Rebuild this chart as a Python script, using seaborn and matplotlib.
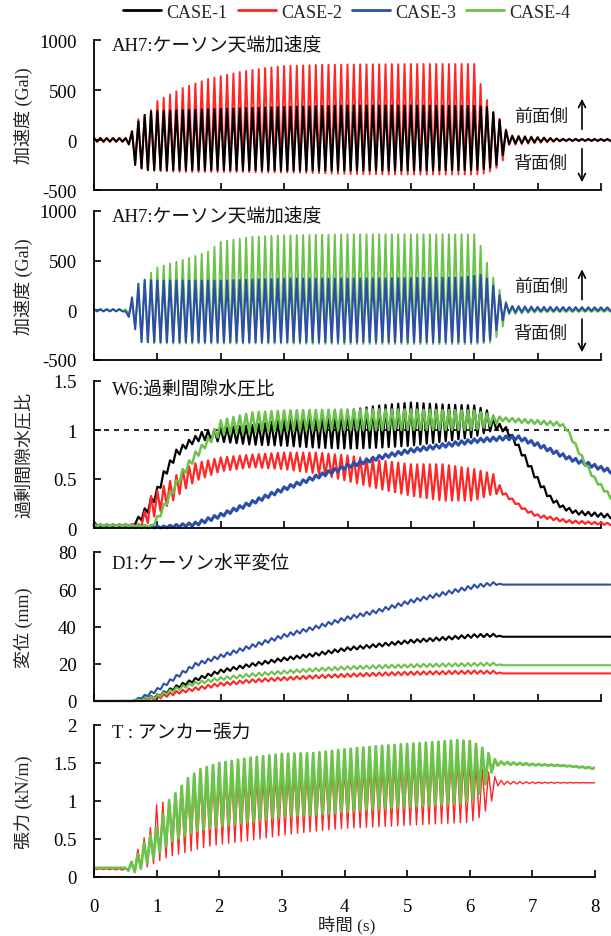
import numpy as np
import pandas as pd
import matplotlib
matplotlib.use("Agg")
import matplotlib.pyplot as plt
from matplotlib.lines import Line2D
import seaborn as sns

# ---------------------------------------------------------------- data
CASES = ["CASE-1", "CASE-2", "CASE-3", "CASE-4"]
COLORS = {"CASE-1": "#000000", "CASE-2": "#ff2626", "CASE-3": "#2c4ea8", "CASE-4": "#6cc24a"}

EXCITATION_HZ = 10.0      # ~10 load cycles per second, counted on the picture
RECORD_END = 8.15         # records in panels 1-4 run slightly past the 8 s tick
TENSION_END = 8.0
REF_RATIO = 1.0           # dashed reference line of panel 3

# Panel 1: AH7 caisson-top acceleration (Gal), peak envelopes (upper / lower)
ACC_C1_T = [0.0, 0.5, 0.58, 0.65, 0.75, 0.85, 1.0, 1.5, 2.0, 3.0, 4.0, 5.0, 6.0, 6.2, 6.35, 6.45, 6.55, 7.0, 7.4, 8.15]
ACC_C1_UP = [18, 18, 60, 150, 220, 280, 290, 300, 310, 330, 345, 345, 340, 330, 250, 150, 40, 25, 10, 8]
ACC_C1_LO = [-15, -15, -60, -250, -280, -300, -300, -300, -300, -305, -305, -305, -300, -290, -250, -150, -40, -20, -8, -8]

ACC_C2_T = [0.0, 0.5, 0.58, 0.68, 0.8, 0.9, 1.0, 1.4, 1.8, 2.3, 2.7, 3.0, 3.5, 4.0, 5.0, 6.0, 6.1, 6.2, 6.3, 6.42, 6.55, 7.0, 7.4, 8.15]
ACC_C2_UP = [22, 22, 60, 200, 250, 300, 390, 520, 610, 680, 720, 740, 750, 755, 760, 760, 560, 400, 280, 200, 50, 30, 12, 10]
ACC_C2_LO = [-20, -20, -60, -270, -300, -305, -310, -320, -320, -320, -325, -325, -330, -340, -345, -345, -340, -330, -300, -250, -50, -30, -12, -10]

# Panel 2: AH7 acceleration, CASE-3 / CASE-4
ACC_C3_T = [0.0, 0.45, 0.52, 0.6, 0.68, 0.75, 1.0, 2.0, 3.0, 4.0, 5.0, 5.8, 6.1, 6.25, 6.35, 6.45, 6.55, 7.0, 8.15]
ACC_C3_UP = [12, 12, -20, 130, 250, 310, 300, 300, 320, 320, 325, 330, 355, 300, 200, 100, 45, 35, 30]
ACC_C3_LO = [-10, -10, -70, -60, -270, -320, -320, -320, -320, -320, -320, -320, -320, -300, -200, -100, -25, -10, -5]

ACC_C4_T = [0.0, 0.5, 0.6, 0.7, 0.8, 0.95, 1.2, 1.5, 1.8, 2.0, 2.5, 3.0, 4.0, 6.0, 6.1, 6.2, 6.3, 6.42, 6.55, 7.0, 8.15]
ACC_C4_UP = [10, 10, 60, 200, 300, 420, 470, 525, 590, 690, 740, 755, 765, 765, 650, 480, 330, 180, 30, 10, 5]
ACC_C4_LO = [-10, -10, -60, -250, -320, -330, -335, -335, -335, -335, -335, -335, -340, -340, -335, -330, -320, -200, -40, -20, -15]

# Panel 3: W6 excess pore water pressure ratio
EPWP_C1_T = [0.0, 0.1, 0.6, 0.8, 1.0, 1.1, 1.3, 1.5, 1.7, 2.0, 2.5, 3.0, 3.5, 4.0, 4.5, 5.0, 5.5, 6.0, 6.2, 6.35, 6.5, 6.6, 6.75, 7.0, 7.2, 7.4, 7.6, 8.15]
EPWP_C1_UP = [0.06, 0.03, 0.03, 0.2, 0.42, 0.58, 0.8, 0.9, 0.98, 1.02, 1.05, 1.1, 1.15, 1.2, 1.25, 1.28, 1.26, 1.25, 1.2, 1.08, 1.03, 0.95, 0.8, 0.52, 0.33, 0.23, 0.18, 0.14]
EPWP_C1_LO = [0.03, 0.02, 0.02, 0.1, 0.32, 0.5, 0.72, 0.84, 0.9, 0.88, 0.85, 0.84, 0.82, 0.81, 0.82, 0.84, 0.88, 0.93, 0.98, 1.0, 0.98, 0.9, 0.74, 0.46, 0.28, 0.19, 0.14, 0.1]

EPWP_C2_T = [0.0, 0.75, 0.85, 1.0, 1.2, 1.4, 1.6, 2.0, 2.5, 3.0, 3.5, 4.0, 4.5, 5.0, 5.5, 6.0, 6.3, 6.45, 6.6, 6.8, 7.0, 7.5, 8.15]
EPWP_C2_UP = [0.04, 0.04, 0.3, 0.38, 0.48, 0.6, 0.66, 0.72, 0.75, 0.77, 0.77, 0.74, 0.69, 0.65, 0.65, 0.6, 0.55, 0.38, 0.3, 0.2, 0.14, 0.08, 0.05]
EPWP_C2_LO = [0.02, 0.02, 0.05, 0.15, 0.25, 0.38, 0.48, 0.58, 0.62, 0.6, 0.56, 0.48, 0.4, 0.33, 0.28, 0.28, 0.35, 0.34, 0.27, 0.17, 0.11, 0.05, 0.03]

EPWP_C3_T = [0.0, 1.1, 1.6, 2.0, 2.5, 3.0, 3.5, 4.0, 4.5, 5.0, 5.5, 6.0, 6.5, 6.7, 7.0, 7.5, 8.15]
EPWP_C3_UP = [0.03, 0.02, 0.06, 0.15, 0.28, 0.42, 0.54, 0.65, 0.74, 0.81, 0.86, 0.91, 0.94, 0.94, 0.87, 0.73, 0.6]
EPWP_C3_LO = [0.01, 0.0, 0.02, 0.11, 0.24, 0.38, 0.5, 0.61, 0.7, 0.77, 0.82, 0.87, 0.9, 0.9, 0.83, 0.69, 0.56]

EPWP_C4_T = [0.0, 0.9, 1.0, 1.2, 1.4, 1.6, 1.8, 2.0, 2.5, 3.0, 4.0, 5.0, 6.0, 6.3, 6.45, 7.0, 7.35, 7.45, 7.6, 7.75, 7.9, 8.15]
EPWP_C4_UP = [0.04, 0.03, 0.12, 0.37, 0.6, 0.78, 0.92, 1.1, 1.18, 1.2, 1.21, 1.21, 1.2, 1.15, 1.13, 1.1, 1.08, 1.04, 0.86, 0.68, 0.52, 0.34]
EPWP_C4_LO = [0.02, 0.01, 0.06, 0.3, 0.52, 0.7, 0.85, 0.95, 0.98, 0.99, 1.0, 1.0, 1.0, 1.05, 1.09, 1.06, 1.04, 1.0, 0.82, 0.64, 0.48, 0.3]

# Panel 4: D1 horizontal caisson displacement (mm)
DISP_T = [0.0, 0.6, 0.8, 1.0, 1.3, 1.6, 2.0, 2.5, 3.0, 3.5, 4.0, 4.5, 5.0, 5.5, 6.0, 6.3, 6.45, 8.15]
DISP_C1_UP = [0, 0, 1.8, 3.6, 8.4, 12.4, 16.9, 20.4, 23.4, 25.9, 28.9, 30.9, 32.9, 34.4, 35.9, 36.1, 34.5, 34.5]
DISP_C1_LO = [0, 0, 0.2, 1.8, 6.6, 10.6, 15.1, 18.6, 21.6, 24.1, 27.1, 29.1, 31.1, 32.6, 34.1, 34.5, 34.5, 34.5]
DISP_C2_UP = [0, 0, 1.2, 2.7, 5.4, 7.4, 9.9, 11.7, 12.9, 13.9, 14.7, 15.3, 15.8, 16.1, 16.4, 16.2, 14.8, 14.8]
DISP_C2_LO = [0, 0, -0.2, 0.9, 3.6, 5.6, 8.1, 9.9, 11.1, 12.1, 12.9, 13.5, 14.0, 14.3, 14.6, 14.6, 14.8, 14.8]
DISP_C3_UP = [0, 0, 3.3, 7.0, 14.0, 20.5, 25.0, 30.5, 36.0, 40.5, 45.5, 49.5, 54.5, 58.5, 62.5, 63.8, 62.5, 62.5]
DISP_C3_LO = [0, 0, 1.7, 5.0, 12.0, 18.5, 23.0, 28.5, 34.0, 38.5, 43.5, 47.5, 52.5, 56.5, 60.5, 62.2, 62.5, 62.5]
DISP_C4_UP = [0, 0, 1.6, 3.4, 7.4, 10.4, 12.9, 14.9, 16.4, 17.7, 18.7, 19.3, 19.8, 20.2, 20.5, 20.6, 19.2, 19.2]
DISP_C4_LO = [0, 0, 0.4, 1.6, 5.6, 8.6, 11.1, 13.1, 14.6, 15.9, 16.9, 17.5, 18.0, 18.4, 18.7, 19.0, 19.2, 19.2]

# Panel 5: T anchor tension (kN/m), CASE-2 / CASE-4
TEN_C2_T = [0.0, 0.5, 0.6, 0.75, 0.9, 1.0, 1.2, 1.5, 1.8, 2.0, 2.5, 3.0, 3.5, 4.0, 4.5, 5.0, 5.5, 6.0, 6.2, 6.35, 6.45, 6.6, 7.0, 8.0]
TEN_C2_UP = [0.11, 0.11, 0.2, 0.45, 0.65, 0.95, 1.02, 1.18, 1.28, 1.3, 1.3, 1.35, 1.38, 1.42, 1.45, 1.5, 1.58, 1.52, 1.42, 1.36, 1.28, 1.26, 1.25, 1.24]
TEN_C2_LO = [0.1, 0.09, 0.08, 0.1, 0.15, 0.2, 0.27, 0.33, 0.4, 0.43, 0.48, 0.55, 0.6, 0.64, 0.66, 0.68, 0.7, 0.72, 0.8, 1.0, 1.2, 1.22, 1.23, 1.24]

TEN_C4_T = [0.0, 0.5, 0.6, 0.7, 0.8, 1.0, 1.2, 1.5, 1.7, 2.0, 2.5, 3.0, 3.5, 4.0, 4.5, 5.0, 5.5, 5.8, 6.0, 6.1, 6.2, 6.3, 6.4, 6.5, 7.0, 7.5, 8.0]
TEN_C4_UP = [0.12, 0.12, 0.2, 0.3, 0.45, 0.65, 1.0, 1.3, 1.42, 1.5, 1.57, 1.62, 1.63, 1.68, 1.72, 1.75, 1.78, 1.8, 1.79, 1.75, 1.7, 1.63, 1.55, 1.52, 1.49, 1.47, 1.44]
TEN_C4_LO = [0.12, 0.12, 0.05, 0.08, 0.15, 0.28, 0.45, 0.57, 0.62, 0.67, 0.73, 0.8, 0.82, 0.86, 0.9, 0.93, 0.95, 0.97, 1.0, 1.05, 1.14, 1.3, 1.45, 1.48, 1.47, 1.46, 1.42]

X_TICKS = [0, 1, 2, 3, 4, 5, 6, 7, 8]
ACC_TICKS = [-500, 0, 500, 1000]
EPWP_TICKS = [0, 0.5, 1, 1.5]
DISP_TICKS = [0, 20, 40, 60, 80]
TEN_TICKS = [0, 0.5, 1, 1.5, 2]

TITLES = ["AH7:ケーソン天端加速度", "AH7:ケーソン天端加速度", "W6:過剰間隙水圧比",
          "D1:ケーソン水平変位", "T : アンカー張力"]
YLABELS = ["加速度 (Gal)", "加速度 (Gal)", "過剰間隙水圧比", "変位 (mm)", "張力 (kN/m)"]
XLABEL = "時間 (s)"
FRONT_TEXT = "前面側"
BACK_TEXT = "背面側"


def cyclic_record(t_keys, upper, lower, t_end):
    """Turning points of the record: alternate upper / lower peak envelopes
    every half load cycle."""
    half = 0.5 / EXCITATION_HZ
    t = np.arange(0.0, t_end + 1e-9, half)
    up = np.interp(t, t_keys, upper)
    lo = np.interp(t, t_keys, lower)
    v = np.where(np.arange(len(t)) % 2 == 0, up, lo)
    return pd.DataFrame({"t": t, "v": v})


# ---------------------------------------------------------------- style
sns.set_style("ticks")
FAM = ["Liberation Serif", "Noto Sans CJK JP", "DejaVu Sans"]
plt.rcParams["font.family"] = FAM
plt.rcParams["axes.unicode_minus"] = False
plt.rcParams["axes.linewidth"] = 1.3
plt.rcParams["axes.edgecolor"] = "black"

W, H = 611, 937
fig = plt.figure(figsize=(W / 100, H / 100), dpi=100)


def rect(l, r, top, bot):
    return [l / W, 1 - bot / H, (r - l) / W, (bot - top) / H]


rects = [rect(94, 601, 41, 191), rect(94, 601, 212, 361), rect(94, 601, 382, 529),
         rect(94, 601, 553, 702), rect(94, 595, 726, 878)]
axes = [fig.add_axes(r) for r in rects]


def draw(ax, df, case, lw, clip=False, z=2):
    sns.lineplot(data=df, x="t", y="v", color=COLORS[case], lw=lw, estimator=None,
                 sort=False, errorbar=None, legend=False, ax=ax, zorder=z)
    ax.lines[-1].set_clip_on(clip)


# panel 1
ax = axes[0]
draw(ax, cyclic_record(ACC_C2_T, ACC_C2_UP, ACC_C2_LO, RECORD_END), "CASE-2", 1.4)
draw(ax, cyclic_record(ACC_C1_T, ACC_C1_UP, ACC_C1_LO, RECORD_END), "CASE-1", 1.5)
# panel 2
ax = axes[1]
draw(ax, cyclic_record(ACC_C4_T, ACC_C4_UP, ACC_C4_LO, RECORD_END), "CASE-4", 1.4)
draw(ax, cyclic_record(ACC_C3_T, ACC_C3_UP, ACC_C3_LO, RECORD_END), "CASE-3", 1.5)
# panel 3
ax = axes[2]
ax.hlines(REF_RATIO, 0, RECORD_END, colors="black", linestyles=(0, (3, 3)), lw=1.2,
          zorder=1, clip_on=False)
draw(ax, cyclic_record(EPWP_C1_T, EPWP_C1_UP, EPWP_C1_LO, RECORD_END), "CASE-1", 1.6)
draw(ax, cyclic_record(EPWP_C2_T, EPWP_C2_UP, EPWP_C2_LO, RECORD_END), "CASE-2", 1.6)
draw(ax, cyclic_record(EPWP_C3_T, EPWP_C3_UP, EPWP_C3_LO, RECORD_END), "CASE-3", 2.2)
draw(ax, cyclic_record(EPWP_C4_T, EPWP_C4_UP, EPWP_C4_LO, RECORD_END), "CASE-4", 1.8)
# panel 4
ax = axes[3]
draw(ax, cyclic_record(DISP_T, DISP_C1_UP, DISP_C1_LO, RECORD_END), "CASE-1", 1.5)
draw(ax, cyclic_record(DISP_T, DISP_C2_UP, DISP_C2_LO, RECORD_END), "CASE-2", 1.5)
draw(ax, cyclic_record(DISP_T, DISP_C3_UP, DISP_C3_LO, RECORD_END), "CASE-3", 1.5)
draw(ax, cyclic_record(DISP_T, DISP_C4_UP, DISP_C4_LO, RECORD_END), "CASE-4", 1.5)
# panel 5
ax = axes[4]
draw(ax, cyclic_record(TEN_C2_T, TEN_C2_UP, TEN_C2_LO, TENSION_END), "CASE-2", 1.0, clip=True)
draw(ax, cyclic_record(TEN_C4_T, TEN_C4_UP, TEN_C4_LO, TENSION_END), "CASE-4", 2.0, clip=True)

ylims = [(-500, 1000), (-500, 1000), (0, 1.5), (0, 80), (0, 2)]
yticks = [ACC_TICKS, ACC_TICKS, EPWP_TICKS, DISP_TICKS, TEN_TICKS]
title_y = [0.96, 0.96, 0.94, 0.92, 0.955]
label_x = [-0.12, -0.12, -0.12, -0.12, -0.122]

for i, ax in enumerate(axes):
    sns.despine(ax=ax)
    ax.set_xlim(0, 8)
    ax.set_ylim(*ylims[i])
    ax.set_xticks(X_TICKS)
    ax.set_yticks(yticks[i])
    ax.set_yticklabels([f"{v:g}" for v in yticks[i]], fontsize=13.5)
    ax.tick_params(axis="both", direction="in", length=5, width=1.2, colors="black")
    ax.tick_params(axis="y", pad=12.5)
    ax.set_xlabel("")
    if i < 4:
        ax.set_xticklabels([])
    else:
        ax.set_xticklabels([str(v) for v in X_TICKS], fontsize=13.5)
        ax.tick_params(axis="x", pad=15)
    ax.set_ylabel(YLABELS[i], fontsize=13, color="#222222")
    ax.yaxis.set_label_coords(label_x[i], 0.5)
    ax.text(0.035, title_y[i], TITLES[i], transform=ax.transAxes, ha="left", va="center",
            fontsize=13.5, color="#111111")

fig.text(347 / W, 1 - 925 / H, XLABEL, ha="center", va="center", fontsize=12.5,
         color="#222222")

for ax in axes[:2]:
    arrow = dict(arrowstyle="->,head_length=0.5,head_width=0.25", lw=1.2, color="black")
    ax.annotate("", xy=(7.7, 440), xytext=(7.7, 80), arrowprops=arrow, annotation_clip=False)
    ax.annotate("", xy=(7.7, -450), xytext=(7.7, -60), arrowprops=arrow, annotation_clip=False)
    ax.text(7.48, 237, FRONT_TEXT, ha="right", va="center", fontsize=13, color="#222222")
    ax.text(7.48, -230, BACK_TEXT, ha="right", va="center", fontsize=13, color="#222222")

handles = [Line2D([0], [0], color=COLORS[c], lw=2) for c in CASES]
fig.legend(handles, CASES, loc="center", bbox_to_anchor=(347 / W, 1 - 13 / H), ncol=4,
           frameon=False, handlelength=2.1, handletextpad=0.3, columnspacing=0.55,
           fontsize=13, borderaxespad=0, borderpad=0)

fig.savefig("out.png", dpi=100)
